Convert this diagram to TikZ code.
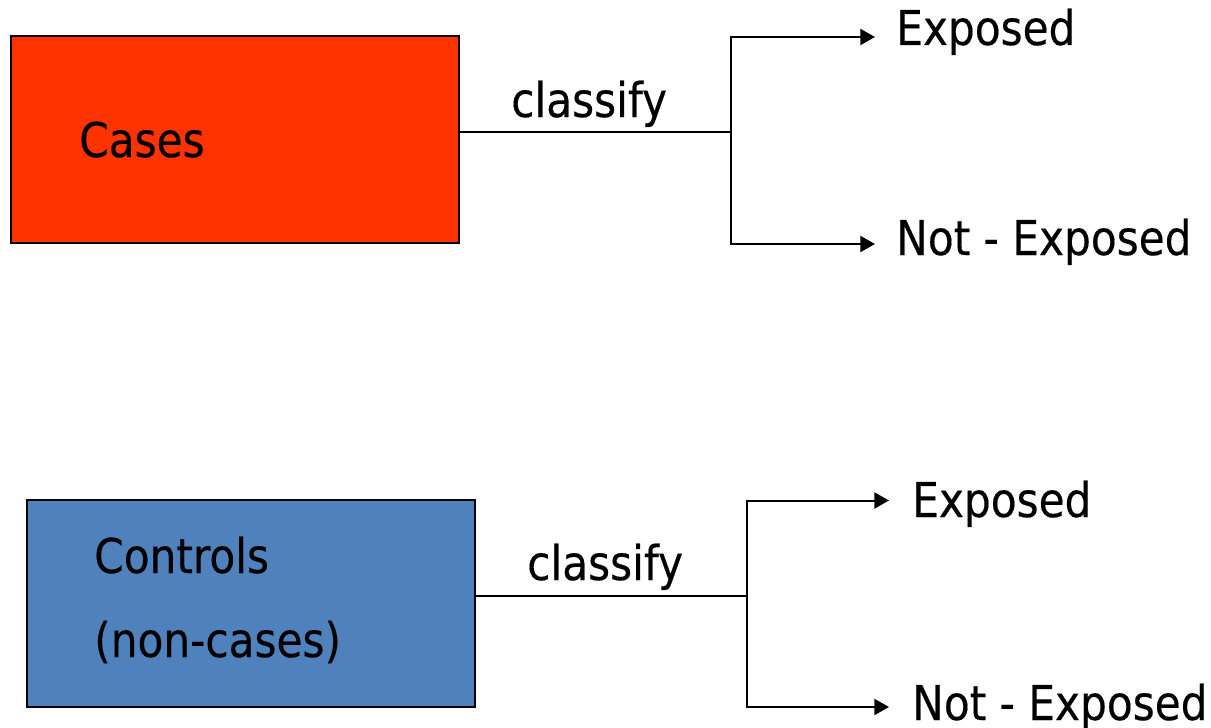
\documentclass[tikz,border=0pt]{standalone}
\usepackage{fontspec}
\setmainfont{DejaVu Sans}[FakeStretch=0.88, FakeBold=0.3]
\usetikzlibrary{arrows.meta}
\definecolor{casered}{HTML}{FF3300}
\definecolor{ctrlblue}{HTML}{4F81BD}
\tikzset{
  box/.style={draw=black, line width=1.7pt, rectangle, inner sep=0pt,
    minimum width=336pt, minimum height=155.25pt},
  lbl/.style={anchor=base west, inner sep=0pt, font=\fontsize{36pt}{40pt}\selectfont},
  conn/.style={draw=black, line width=1.5pt},
  arr/.style={conn, -{Triangle[length=11pt, width=12pt]}}
}
\begin{document}
\begin{tikzpicture}[x=0.75pt, y=-0.75pt]
\useasboundingbox (0,0) rectangle (1211,728);
% top group
\node[box, fill=casered] (cases) at (235,139.5) {};
\node[lbl] (casesT) at (79,157) {Cases};
\node[lbl] (cls1) at (511,117) {classify};
\node[lbl] (exp1) at (896,45) {Exposed};
\node[lbl] (nexp1) at (896,255) {Not - Exposed};
\coordinate (j1) at (731,131.5);
\coordinate (t1) at (875,37);
\coordinate (b1) at (875,244);
\draw[conn] (cases.east |- j1) -- (j1);
\draw[arr] (j1) |- (t1);
\draw[arr] (j1) |- (b1);
% bottom group
\node[box, fill=ctrlblue] (ctrl) at (251,603.8) {};
\node[lbl] (ctrlT) at (94,573) {Controls};
\node[lbl] (ncT) at (94,657) {(non-cases)};
\node[lbl] (cls2) at (527,580) {classify};
\node[lbl] (exp2) at (912,517) {Exposed};
\node[lbl] (nexp2) at (912,720) {Not - Exposed};
\coordinate (j2) at (747,596);
\coordinate (t2) at (889,500.5);
\coordinate (b2) at (889,707);
\draw[conn] (ctrl.east |- j2) -- (j2);
\draw[arr] (j2) |- (t2);
\draw[arr] (j2) |- (b2);
\end{tikzpicture}
\end{document}
